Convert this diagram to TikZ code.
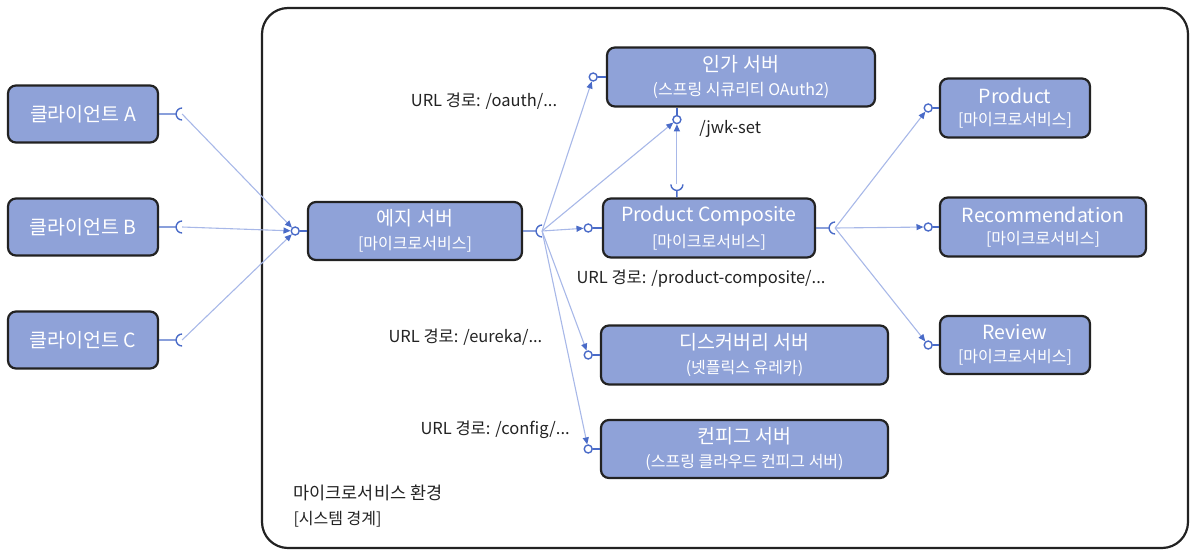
\documentclass[tikz,border=0pt]{standalone}
\usepackage{fontspec}
\setmainfont{Noto Sans CJK KR}
\usetikzlibrary{positioning,arrows.meta,calc}
\definecolor{boxfill}{HTML}{8FA2D8}
\definecolor{linkcolor}{HTML}{A8B8E8}
\definecolor{portcolor}{HTML}{4A6BC8}
\definecolor{inkcolor}{HTML}{222222}

\newcommand{\svctext}[2]{{\fontsize{19.5}{23}\selectfont #1}\\[8pt]{\fontsize{16}{19}\selectfont #2}}

\tikzset{
  svc/.style={draw=inkcolor, line width=2.2pt, fill=boxfill, rounded corners=8pt,
              text=white, align=center, inner sep=0pt},
  ball/.style={circle, draw=portcolor, fill=white, line width=1.4pt,
               minimum size=8pt, inner sep=0pt},
  port/.style={draw=portcolor, line width=1.4pt},
  link/.style={draw=linkcolor, line width=1.1pt,
               -{Triangle[length=7pt, width=6pt, color=portcolor]}},
  url/.style={text=inkcolor, font=\fontsize{16.5}{19}\selectfont}
}

\begin{document}
\begin{tikzpicture}[x=1pt, y=1pt]
    \useasboundingbox (0,0) rectangle (1192,-552);

    % System boundary
    \draw[inkcolor, line width=2.2pt, rounded corners=26pt] (262,-8) rectangle (1188,-548);
    \node[anchor=west, text=inkcolor, font=\fontsize{17.5}{20}\selectfont] (envtitle) at (290,-493) {마이크로서비스 환경};
    \node[anchor=west, text=inkcolor, font=\fontsize{16}{19}\selectfont] (envsub) at (290,-519) {[시스템 경계]};

    % Clients
    \foreach \c/\y in {A/114, B/227, C/340} {
        \node[svc, minimum width=150pt, minimum height=57pt] (client\c) at (83,-\y)
            {\fontsize{19.5}{23}\selectfont 클라이언트 \c};
        \coordinate[right=23pt of client\c] (client\c sock);
        \draw[port] (client\c.east) -- ++(17,0) ++(6,6) arc[start angle=90, end angle=270, radius=6];
    }

    % Edge server
    \node[svc, minimum width=214pt, minimum height=58pt] (edge) at (415,-231)
        {\svctext{에지 서버}{[마이크로서비스]}};
    \node[ball, left=7pt of edge] (edgeball) {};
    \draw[port] (edgeball) -- (edge.west);
    \coordinate[right=19pt of edge] (edgesock);
    \draw[port] (edge.east) -- ++(13,0) ++(6,6) arc[start angle=90, end angle=270, radius=6];

    % Authorization server
    \node[svc, minimum width=268pt, minimum height=59pt] (auth) at (741,-77)
        {\svctext{인가 서버}{(스프링 시큐리티 OAuth2)}};
    \node[ball, left=8pt of auth] (authball) {};
    \draw[port] (authball) -- (auth.west);
    \node[ball] (jwkball) at ($(auth.south west)+(71,-12)$) {};
    \draw[port] (jwkball) -- (jwkball |- auth.south);
    \node[url, anchor=west] (jwklabel) at ($(jwkball)+(19,-9)$) {/jwk-set};

    % Product composite
    \node[svc, minimum width=212pt, minimum height=59pt] (pc) at (709,-228)
        {\svctext{Product Composite}{[마이크로서비스]}};
    \node[ball, left=9pt of pc] (pcball) {};
    \draw[port] (pcball) -- (pc.west);
    \coordinate (pctopsock) at ($(jwkball |- pc.north)+(0,13)$);
    \draw[port] (jwkball |- pc.north) -- ++(0,7) ++(-6,6) arc[start angle=180, end angle=360, radius=6];
    \coordinate[right=19pt of pc] (pcsock);
    \draw[port] (pc.east) -- ++(13,0) ++(6,6) arc[start angle=90, end angle=270, radius=6];

    % Core services
    \node[svc, minimum width=150pt, minimum height=59pt] (product) at (1015,-108)
        {\svctext{Product}{[마이크로서비스]}};
    \node[svc, minimum width=206pt, minimum height=59pt] (rec) at (1043,-227)
        {\svctext{Recommendation}{[마이크로서비스]}};
    \node[svc, minimum width=150pt, minimum height=58pt] (review) at (1015,-345)
        {\svctext{Review}{[마이크로서비스]}};
    \foreach \s in {product, rec, review} {
        \node[ball, left=6pt of \s] (\s ball) {};
        \draw[port] (\s ball) -- (\s.west);
    }

    % Discovery and config servers
    \node[svc, minimum width=287pt, minimum height=59pt] (disc) at (744.5,-355)
        {\svctext{디스커버리 서버}{(넷플릭스 유레카)}};
    \node[svc, minimum width=287pt, minimum height=58pt] (cfg) at (744.5,-449)
        {\svctext{컨피그 서버}{(스프링 클라우드 컨피그 서버)}};
    \foreach \s in {disc, cfg} {
        \node[ball, left=7pt of \s] (\s ball) {};
        \draw[port] (\s ball) -- (\s.west);
    }

    % Links
    \foreach \c in {A, B, C}
        \draw[link] (client\c sock) -- (edgeball);
    \foreach \t in {authball, jwkball, pcball, discball, cfgball}
        \draw[link] (edgesock) -- (\t);
    \draw[link] (pctopsock) -- (jwkball);
    \foreach \t in {productball, recball, reviewball}
        \draw[link] (pcsock) -- (\t);

    % URL labels
    \node[url] (oauthurl) at (484,-101) {URL 경로: /oauth/...};
    \node[url, anchor=west] (pcurl) at (573,-279) {URL 경로: /product-composite/...};
    \node[url, anchor=west] (eurekaurl) at (385,-337) {URL 경로: /eureka/...};
    \node[url, anchor=west] (cfgurl) at (417,-430) {URL 경로: /config/...};
\end{tikzpicture}
\end{document}
